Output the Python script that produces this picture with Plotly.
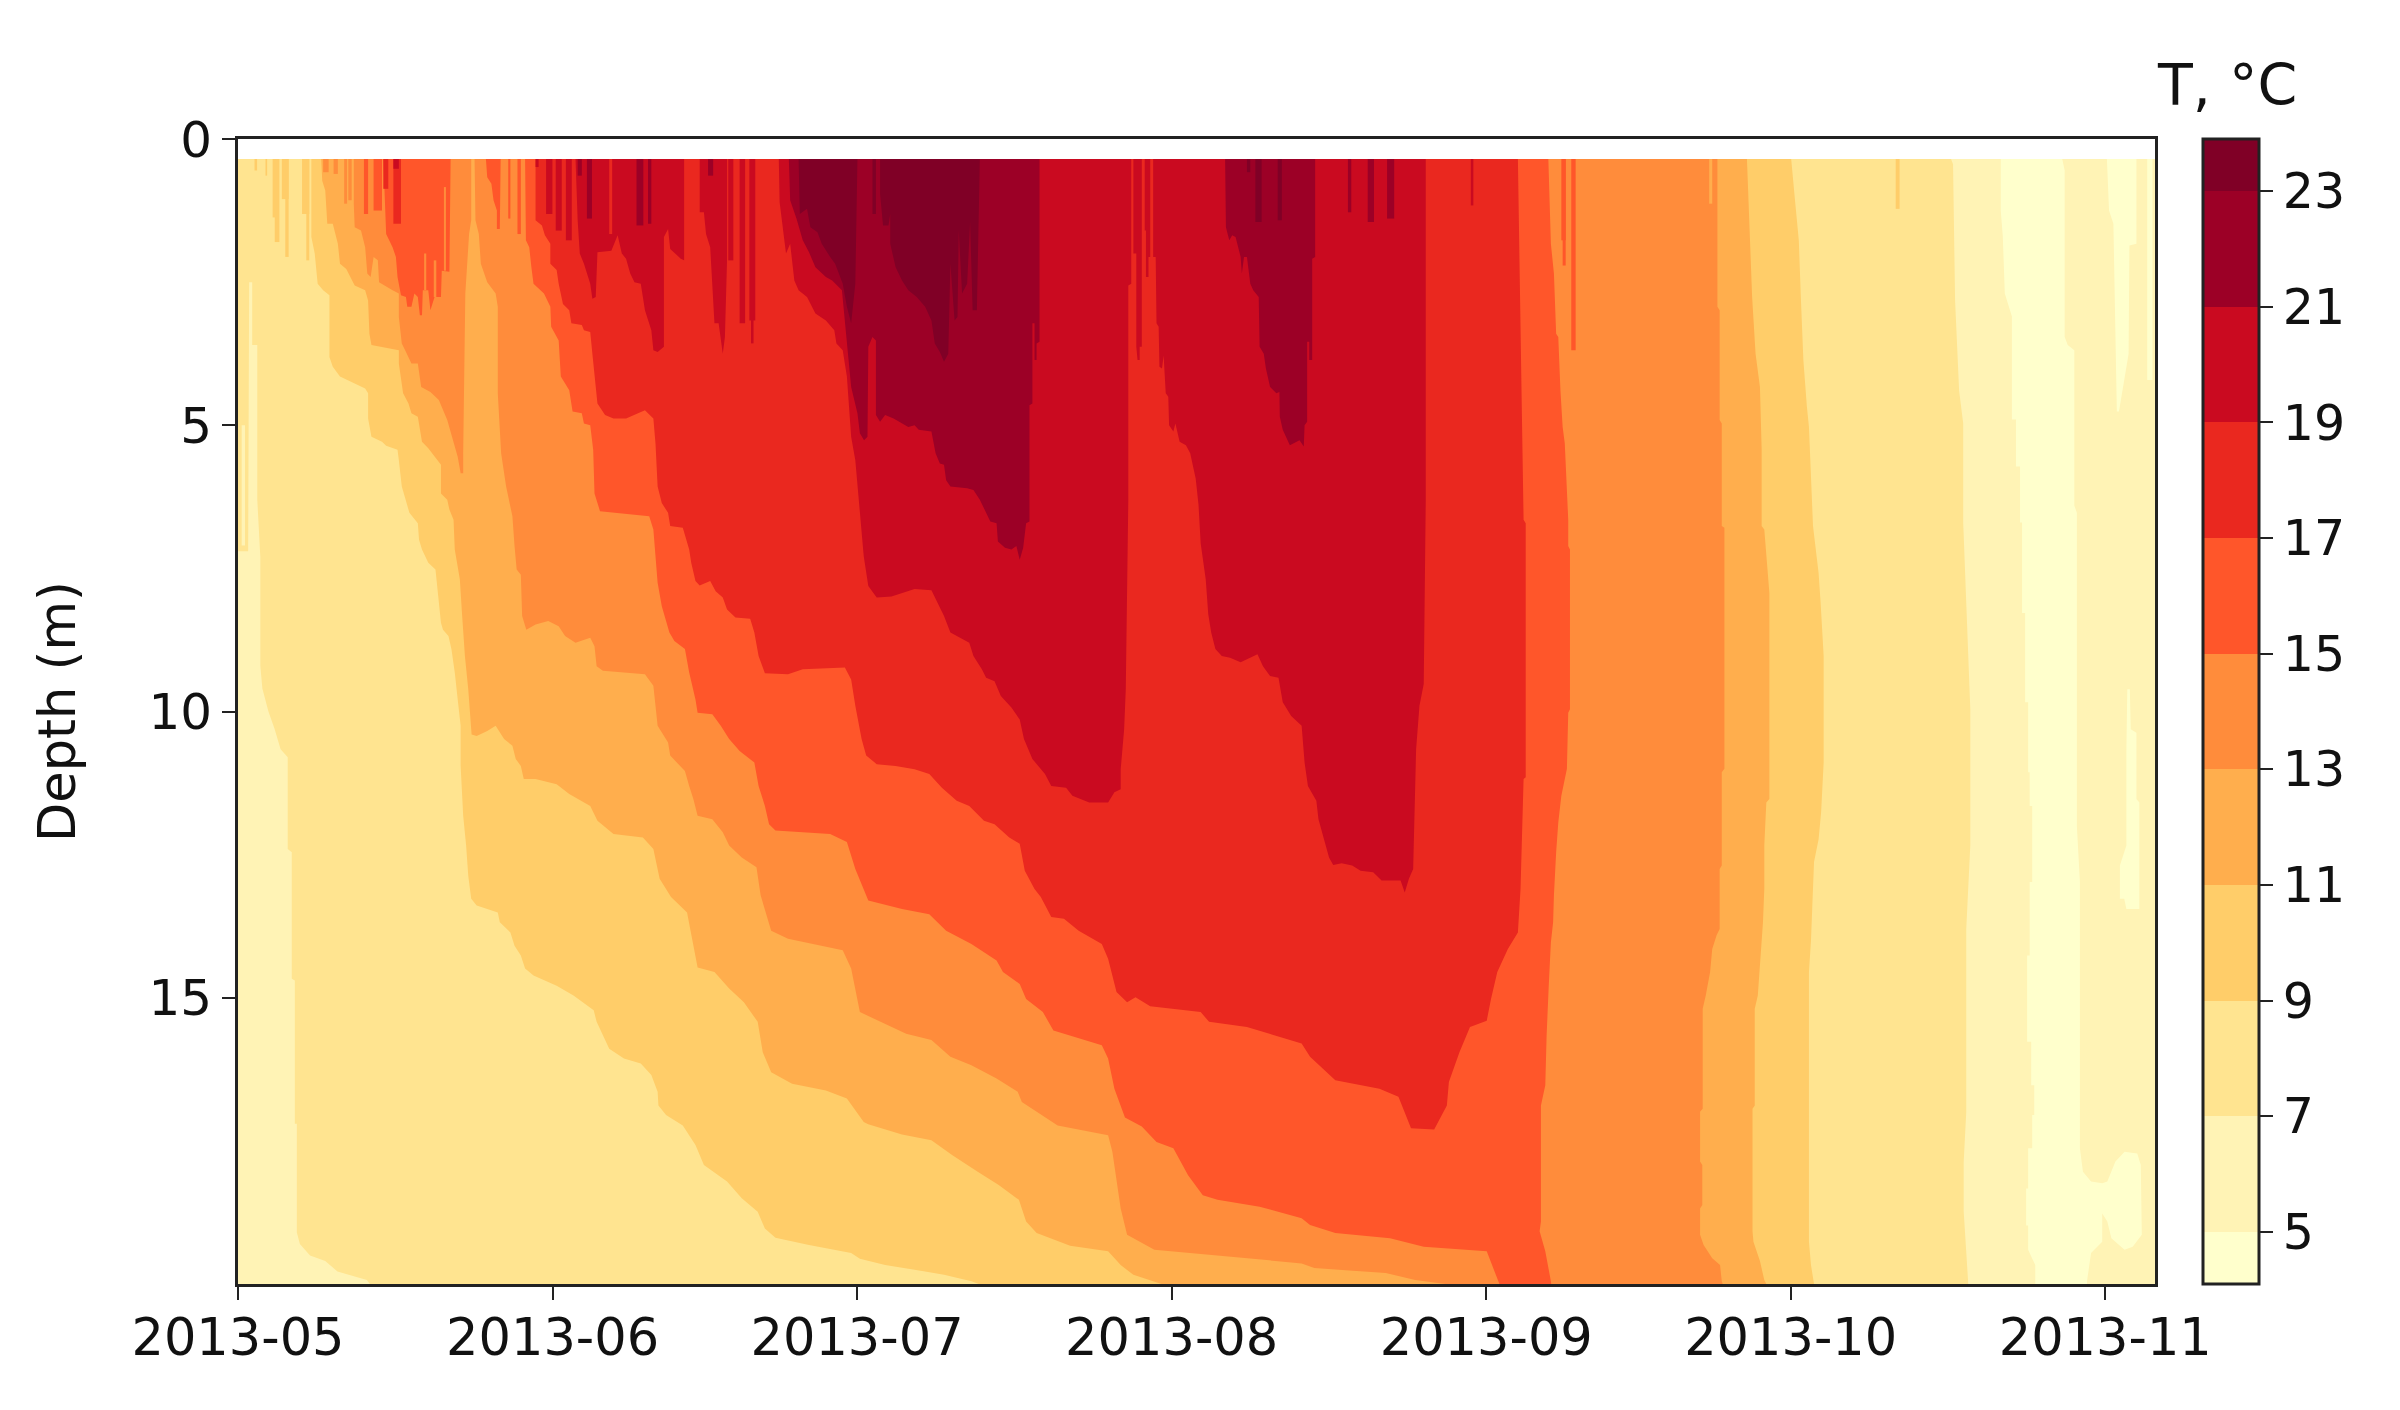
import pandas as pd
import plotly.graph_objects as go

# Lake temperature section.
# Every isotherm outline is a list of (days since 2013-05-01, depth in m);
# the region on the warm side of the isotherm is the closed outline.
START = pd.Timestamp("2013-05-01")
LAST_DAY = 188.9
SURFACE = 0.35
BOTTOM = 20.0

BAND_EDGES = [4.1, 5, 7, 9, 11, 13, 15, 17, 19, 21, 23, 23.9]
BAND_COLORS = ["#FFFFCC", "#FFF3B5", "#FFE490", "#FFCD69", "#FFAE4D", "#FF8C3B",
               "#FF562A", "#EA281F", "#CA0A20", "#9C0026", "#800026"]
COLORBAR_TICKS = [5, 7, 9, 11, 13, 15, 17, 19, 21, 23]
DEPTH_TICKS = [0, 5, 10, 15]
MONTH_TICKS = ["2013-05-01", "2013-06-01", "2013-07-01", "2013-08-01",
               "2013-09-01", "2013-10-01", "2013-11-01"]

# below 5 degrees, autumn patches
cold_main = [(173.7, .35), (173.7, 1.25), (173.9, 1.7), (174.1, 2.7), (174.8, 3.1), (174.8, 4.9), (175.2, 4.9),
             (175.2, 5.72), (175.6, 5.72), (175.6, 6.7), (175.8, 6.7), (175.8, 8.28), (176.1, 8.28), (176.1, 9.84),
             (176.4, 9.84), (176.4, 11.06), (176.55, 11.06), (176.55, 11.65), (176.8, 11.65), (176.8, 12.98),
             (176.55, 12.98), (176.55, 14.26), (176.3, 14.26), (176.3, 15.77), (176.7, 15.77), (176.7, 16.53),
             (177.0, 16.53), (177.0, 17.05), (176.8, 17.05), (176.8, 17.63), (176.4, 17.63), (176.4, 18.33),
             (176.2, 18.33), (176.2, 18.98), (176.4, 18.98), (176.4, 19.4), (177.1, 19.67), (177.1, 20),
             (182.2, 20), (182.2, 19.95), (182.6, 19.46), (183.7, 19.26), (183.7, 18.77), (184.2, 18.91),
             (184.6, 19.2), (185.9, 19.4), (186.7, 19.35), (187.6, 19.14), (187.5, 17.92), (187.15, 17.72),
             (185.9, 17.69), (185.0, 17.86), (184.2, 18.21), (183.7, 18.24), (182.6, 18.21), (181.8, 18.04),
             (181.5, 17.63), (181.5, 12.97), (181.2, 12.0), (181.2, 6.53), (180.95, 6.4), (180.95, 3.69),
             (180.3, 3.6), (180.0, 3.46), (180.0, .55), (179.76, .35)]
cold_top = [(184.16, .35), (184.37, 1.25), (184.8, 1.48), (185.0, 3.28), (185.14, 4.76), (185.35, 4.76),
            (186.3, 3.75), (186.38, 1.86), (187.07, 1.83), (187.07, .35)]
cold_mid = [(186.17, 9.61), (186.08, 10.66), (186.08, 12.34), (185.44, 12.69), (185.44, 13.27), (185.87, 13.27),
            (186.08, 13.45), (187.36, 13.45), (187.36, 11.59), (187.07, 11.53), (187.07, 10.37), (186.51, 10.31),
            (186.42, 9.61)]
cold_edge = [(188.13, .35), (188.13, 4.21), (188.65, 4.21), (188.65, .35)]

iso_07 = [(0, .35), (0, 7.2), (1.0, 7.2), (1.1, 2.5), (1.4, 2.5), (1.4, 3.6), (1.9, 3.6), (1.9, 6.3), (2.2, 7.3),
          (2.2, 9.2), (2.4, 9.6), (3.0, 10.0), (3.6, 10.3), (4.2, 10.66), (4.9, 10.8), (4.9, 12.4), (5.3, 12.46),
          (5.3, 14.67), (5.6, 14.7), (5.6, 17.2), (5.8, 17.2), (5.8, 19.1), (6.1, 19.3), (7.1, 19.5), (8.6, 19.6),
          (9.8, 19.78), (12.7, 19.93), (13, 20),
          (170.5, 20), (170.05, 18.74), (170.05, 17.86), (170.3, 17), (170.3, 13.8), (170.7, 12.34), (170.7, 9.96),
          (170.3, 8.0), (170.0, 6.7), (170, 4.97), (169.6, 4.4), (169.2, 2.82), (169.0, .44), (168.8, .35)]

iso_09 = [(7.23, .35), (7.23, 1.71), (7.56, 2.0), (7.85, 2.53), (8.39, 2.64), (9.01, 2.73), (9.01, 3.81), (9.34, 3.98),
          (10.05, 4.15), (11.5, 4.27), (12.53, 4.36), (12.82, 4.44), (12.82, 4.88), (13.15, 5.2), (14.19, 5.29),
          (14.6, 5.36), (15.72, 5.43), (15.85, 5.61), (16.14, 6.07), (16.47, 6.27), (16.89, 6.53), (17.72, 6.71),
          (17.84, 7.0), (18.13, 7.17), (18.75, 7.4), (19.46, 7.52), (19.58, 7.75), (20.0, 8.45), (20.2, 8.57),
          (20.74, 8.68), (21.03, 8.91), (21.36, 9.32), (21.65, 9.79), (21.94, 10.25), (21.94, 10.95), (22.19, 11.82),
          (22.48, 12.34), (22.69, 12.87), (22.98, 13.27), (23.52, 13.39), (25.6, 13.51), (25.8, 13.68), (26.84, 13.86),
          (27.25, 14.09), (27.87, 14.26), (28.29, 14.49), (29.12, 14.61), (31.4, 14.79), (33.06, 14.96), (35.05, 15.22),
          (35.34, 15.42), (35.96, 15.66), (36.58, 15.89), (38.03, 16.06), (39.69, 16.15), (40.73, 16.35), (41.35, 16.64),
          (41.43, 16.88), (42.18, 17.05), (43.83, 17.23), (45.08, 17.57), (45.91, 17.92), (48.19, 18.21), (49.64, 18.5),
          (51.21, 18.74), (51.92, 19.03), (52.96, 19.19), (56.27, 19.32), (60.42, 19.46), (61.28, 19.56), (63.77, 19.67),
          (66.67, 19.75), (69.57, 19.84), (72.27, 19.95), (73, 20),
          (155.3, 20), (155, 19.67), (154.8, 19.26), (154.8, 14.55), (155, 14), (155.3, 12.63), (155.75, 12.23),
          (156, 11.76), (156.25, 10.89), (156.25, 9.03), (155.95, 8.1), (155.75, 7.58), (155.2, 6.76), (154.8, 5.03),
          (154.6, 4.68), (154.25, 3.86), (154, 2.76), (153.8, 1.77), (153.4, 1.02), (153.05, .35)]

iso_11 = [(8.2, .35), (8.3, .73), (8.6, .9), (8.8, 1.48), (9.34, 1.48), (9.5, 1.6), (9.84, 1.83), (10.05, 2.18),
          (10.67, 2.27), (11.5, 2.56), (12.53, 2.64), (12.82, 2.82), (12.95, 3.4), (13.15, 3.6), (14.19, 3.63),
          (15.23, 3.66), (15.85, 3.69), (15.85, 3.92), (16.27, 4.44), (16.8, 4.62), (17.09, 4.79), (17.72, 4.85),
          (18.13, 5.29), (18.75, 5.4), (19.37, 5.55), (20.0, 5.69), (20.0, 6.19), (20.62, 6.3), (20.83, 6.47),
          (21.24, 6.65), (21.36, 7.17), (21.86, 7.69), (22.07, 8.28), (22.36, 9.03), (22.69, 9.61), (22.9, 10.08),
          (23.02, 10.4), (23.52, 10.43), (24.56, 10.34), (25.39, 10.25), (26.22, 10.48), (27.04, 10.6), (27.37, 10.83),
          (27.87, 10.95), (28.16, 11.18), (29.32, 11.18), (31.4, 11.27), (32.64, 11.44), (34.71, 11.65), (35.42, 11.91),
          (37.0, 12.14), (39.9, 12.2), (40.93, 12.4), (41.55, 12.92), (42.67, 13.24), (44.25, 13.51), (44.87, 14.09),
          (45.29, 14.47), (46.95, 14.55), (48.4, 14.84), (49.85, 15.08), (51.21, 15.42), (51.71, 15.95), (52.54, 16.3),
          (54.6, 16.5), (57.93, 16.62), (60.0, 16.76), (61.66, 17.17), (62.1, 17.21), (65.43, 17.39), (68.33, 17.49),
          (70.4, 17.75), (72.89, 18.04), (74.96, 18.27), (76.95, 18.53), (77.66, 18.91), (78.7, 19.11), (82.0, 19.33),
          (85.74, 19.43), (86.98, 19.67), (88.23, 19.84), (89.89, 19.93), (91, 20),
          (150.6, 20), (150.4, 19.93), (149.97, 19.6), (149.33, 19.26), (149.24, 19.08), (149.24, 16.94), (149.46, 16.88),
          (149.46, 15.19), (149.76, 14.96), (149.97, 14.49), (150.27, 13.68), (150.4, 13.1), (150.4, 12.34), (150.6, 11.59),
          (150.9, 11.53), (150.9, 7.93), (150.6, 7.29), (150.4, 6.82), (150.14, 6.76), (150.14, 5.43), (149.97, 4.33),
          (149.76, 4.04), (149.54, 3.75), (149.2, 2.76), (148.9, 1.48), (148.69, .35)]

iso_13 = [(11.41, .35), (11.41, 1.13), (11.5, 1.54), (12.12, 1.6), (12.53, 1.89), (12.74, 2.35), (13.07, 2.41),
          (13.36, 2.06), (13.78, 2.12), (13.9, 2.5), (15.23, 2.64), (15.85, 2.7), (15.85, 3.11), (16.14, 3.57),
          (16.47, 3.69), (17.09, 3.92), (17.72, 3.92), (18.05, 4.33), (18.96, 4.42), (19.79, 4.56), (20.62, 4.91),
          (21.24, 5.29), (21.65, 5.55), (21.94, 5.84), (22.19, 5.84), (22.19, 5.49), (22.4, 2.7), (22.77, 1.66),
          (22.98, 1.42), (22.98, .35), (23.31, .35), (23.4, 1.42), (23.73, 1.66), (23.93, 2.18), (24.56, 2.5),
          (25.39, 2.7), (25.6, 2.93), (25.6, 4.44), (25.93, 5.49), (26.42, 6.07), (27.04, 6.59), (27.25, 7.11),
          (27.46, 7.52), (27.87, 7.61), (28, 8.33), (28.41, 8.57), (29.32, 8.48), (30.57, 8.42), (31.6, 8.51),
          (32.23, 8.68), (33.26, 8.8), (34.71, 8.71), (35.13, 8.86), (35.34, 9.21), (35.96, 9.29), (40.1, 9.35),
          (40.93, 9.55), (41.35, 10.25), (42.38, 10.54), (42.59, 10.77), (44.04, 11.04), (44.46, 11.3), (44.87, 11.53),
          (45.29, 11.82), (46.74, 11.88), (47.77, 12.11), (48.4, 12.34), (49.64, 12.55), (51.09, 12.72), (51.5, 13.21),
          (51.92, 13.45), (52.54, 13.83), (54.2, 13.97), (59.59, 14.17), (60.42, 14.49), (61.28, 15.25), (65.84, 15.63),
          (68.33, 15.74), (70.2, 16.03), (72.27, 16.18), (74.75, 16.41), (76.83, 16.64), (77.24, 16.82), (79.94, 17.14),
          (80.77, 17.23), (85.74, 17.4), (86.16, 17.69), (86.98, 18.68), (87.61, 19.14), (90.3, 19.4), (95.69, 19.49),
          (104.81, 19.64), (106.06, 19.72), (113.1, 19.81), (116.0, 19.93), (119, 20),
          (146.3, 20), (146.21, 19.95), (146.04, 19.67), (145.27, 19.55), (144.42, 19.32), (144.07, 19.14), (144.07, 18.68),
          (144.29, 18.62), (144.29, 17.92), (144.07, 17.86), (144.07, 16.99), (144.33, 16.94), (144.33, 15.19),
          (144.63, 14.96), (145.06, 14.55), (145.27, 14.15), (145.7, 13.91), (146, 13.8), (146, 12.75), (146.21, 12.69),
          (146.21, 11.06), (146.47, 11.0), (146.47, 6.79), (146.21, 6.76), (146.21, 4.97), (146, 4.91), (146, 2.99),
          (145.78, 2.93), (145.78, .35)]

iso_15 = [(14.32, .35), (14.6, 1.66), (15.23, 1.89), (15.56, 2.06), (15.72, 2.41), (16.06, 2.73), (16.55, 2.76),
          (16.68, 2.93), (17.09, 2.93), (17.38, 2.7), (17.72, 2.76), (17.92, 3.08), (18.13, 3.08), (18.21, 2.64),
          (18.75, 2.64), (18.96, 2.99), (19.37, 2.76), (20.0, 2.76), (20.08, 2.3), (20.83, 2.32), (20.95, .35),
          (24.43, .35), (24.56, .67), (24.97, .78), (25.18, 1.07), (25.51, 1.25), (25.51, 1.57), (25.8, 1.57),
          (25.88, .35), (28.29, .35), (28.37, 1.77), (28.7, 1.89), (28.91, 2.24), (29.12, 2.53), (30.15, 2.7),
          (30.78, 2.93), (30.86, 3.28), (31.6, 3.52), (31.81, 4.15), (32.64, 4.39), (32.97, 4.76), (33.88, 4.79),
          (34.09, 4.97), (34.71, 5.0), (35.0, 5.43), (35.13, 6.19), (35.67, 6.5), (40.52, 6.59), (40.93, 6.82),
          (41.35, 7.75), (41.76, 8.16), (42.51, 8.62), (43.0, 8.77), (44.04, 8.91), (44.46, 9.32), (45.08, 9.79),
          (45.29, 10.02), (46.74, 10.05), (47.57, 10.25), (48.4, 10.48), (49.43, 10.69), (50.88, 10.89), (51.3, 11.3),
          (51.92, 11.65), (52.33, 11.97), (52.96, 12.08), (58.35, 12.14), (60.0, 12.28), (60.83, 12.75), (61.66, 13.1),
          (62.11, 13.3), (65.43, 13.45), (68.12, 13.54), (69.78, 13.83), (72.27, 14.06), (74.75, 14.35), (75.38, 14.55),
          (77.03, 14.76), (77.66, 15.02), (79.31, 15.25), (80.35, 15.57), (85.12, 15.83), (85.74, 16.06), (86.36, 16.59),
          (87.4, 17.09), (89.06, 17.25), (90.51, 17.52), (92.17, 17.63), (93.62, 18.1), (95.07, 18.45), (96.52, 18.53),
          (100.67, 18.65), (104.81, 18.85), (105.64, 18.97), (108.13, 19.11), (113.52, 19.2), (116.84, 19.35),
          (123.05, 19.43), (124.22, 19.95), (124.3, 20),
          (129.4, 20), (129.37, 19.95), (128.82, 19.43), (128.26, 19.08), (128.39, 18.91), (128.39, 16.88), (128.82, 16.53),
          (128.95, 15.66), (129.16, 14.79), (129.37, 14.03), (129.59, 13.68), (129.67, 13.21), (129.89, 12.46),
          (130.1, 11.94), (130.4, 11.47), (130.65, 11.24), (130.95, 11.0), (131.08, 10.02), (131.25, 9.96), (131.25, 7.17),
          (131.08, 7.11), (131.08, 6.65), (130.74, 5.32), (130.53, 5.03), (130.31, 4.39), (130.1, 3.46), (129.89, 3.4),
          (129.67, 2.35), (129.37, 1.83), (129.12, .35)]

iso_17 = [(29.32, .35), (29.32, 1.42), (29.95, 1.51), (30.24, 1.68), (30.78, 1.83), (30.78, 2.18), (31.4, 2.29),
          (31.6, 2.53), (32.02, 2.88), (32.64, 2.99), (32.85, 3.22), (33.88, 3.25), (34.09, 3.34), (34.71, 3.37),
          (34.92, 3.75), (35.13, 4.1), (35.42, 4.62), (36.17, 4.82), (37.0, 4.88), (38.24, 4.88), (39.07, 4.82),
          (40.1, 4.74), (40.93, 4.88), (41.14, 5.32), (41.35, 6.07), (41.76, 6.36), (42.38, 6.53), (42.59, 6.76),
          (43.83, 6.79), (44.46, 7.17), (44.66, 7.4), (45.08, 7.72), (45.49, 7.8), (46.53, 7.72), (47.07, 7.9),
          (47.77, 8.01), (48.19, 8.22), (49.02, 8.36), (50.47, 8.38), (50.88, 8.62), (51.3, 9.03), (51.92, 9.33),
          (54.2, 9.35), (55.65, 9.26), (59.8, 9.23), (60.42, 9.44), (60.83, 9.9), (61.45, 10.48), (61.9, 10.77),
          (62.94, 10.92), (64.8, 10.95), (66.67, 11.01), (68.12, 11.09), (69.36, 11.33), (70.82, 11.56), (72.06, 11.65),
          (73.51, 11.91), (74.55, 11.97), (76.0, 12.2), (77.03, 12.31), (77.53, 12.78), (78.49, 13.1), (79.11, 13.24),
          (80.14, 13.59), (81.39, 13.62), (82.84, 13.83), (85.12, 14.06), (85.74, 14.32), (86.57, 14.9), (87.61, 15.08),
          (88.44, 14.99), (89.89, 15.15), (94.86, 15.25), (95.69, 15.42), (99.42, 15.51), (104.81, 15.8), (105.64, 16.03),
          (108.13, 16.44), (112.48, 16.59), (114.35, 16.73), (115.59, 17.28), (117.87, 17.3), (119.12, 16.88),
          (119.32, 16.47), (120.36, 15.95), (121.4, 15.51), (123.05, 15.4), (123.47, 15.02), (124.09, 14.55),
          (125.13, 14.15), (126.12, 13.86), (126.38, 13.1), (126.68, 11.18), (126.89, 11.15), (126.89, 6.71),
          (126.68, 6.65), (126.47, 4.33), (126.25, 1.89), (126.12, .35)]

iso_19_early_a = [(33.26, .35), (33.47, 1.42), (33.68, 2.0), (34.09, 2.18), (34.71, 2.53), (34.92, 2.79), (35.25, 2.76),
                  (35.42, 1.98), (36.79, 1.95), (37.41, 1.68), (37.82, 2.0), (38.24, 2.09), (38.65, 2.35), (39.07, 2.5),
                  (39.69, 2.53), (40.1, 2.99), (40.73, 3.34), (40.93, 3.69), (41.35, 3.72), (41.97, 3.63), (41.97, 1.71),
                  (42.38, 1.57), (42.59, 1.92), (43.63, 2.09), (43.96, 2.12), (43.96, .35)]
iso_19_early_b = [(45.5, .35), (45.5, 1.28), (45.91, 1.28), (46.12, 1.66), (46.53, 1.89), (46.74, 2.59), (46.95, 3.22),
                  (47.36, 3.22), (47.77, 3.75), (47.98, 3.46), (48.19, 2.12), (48.19, .35)]
iso_19 = [(53.29, .35), (53.37, 1.1), (54.0, 2.0), (54.41, 1.83), (54.82, 2.47), (55.24, 2.64), (56.07, 2.76), (56.9, 3.05),
          (57.93, 3.17), (58.76, 3.34), (58.97, 3.57), (59.59, 3.69), (60.0, 4.15), (60.42, 5.2), (60.83, 5.61), (61.25, 6.54),
          (61.66, 7.29), (62.11, 7.81), (62.94, 8.01), (64.39, 7.99), (66.67, 7.86), (68.33, 7.88), (68.95, 8.1), (69.57, 8.33),
          (70.2, 8.62), (72.06, 8.8), (72.47, 9.03), (73.3, 9.26), (73.72, 9.41), (74.55, 9.47), (75.17, 9.73), (76.21, 9.93),
          (77.03, 10.14), (77.45, 10.48), (78.28, 10.83), (79.52, 11.09), (80.14, 11.3), (81.6, 11.33), (82.22, 11.47),
          (83.88, 11.59), (85.74, 11.59), (86.36, 11.41), (86.98, 11.36), (86.98, 11.01), (87.32, 10.31), (87.48, 9.61),
          (87.73, 6.3), (87.73, 2.56), (88.02, 2.53), (88.02, .35), (88.23, .35), (88.23, 2.0), (88.52, 2.0), (88.52, 3.63),
          (88.64, 3.86), (88.85, 3.86), (88.85, 3.63), (89.06, 3.63), (89.06, .35), (89.35, .35), (89.35, 1.6), (89.47, 1.6),
          (89.47, 2.41), (89.72, 2.41), (89.72, 2.06), (89.89, 2.06), (89.89, .35), (90.18, .35), (90.18, 2.06), (90.43, 2.06),
          (90.51, 3.22), (90.72, 3.28), (90.8, 3.98), (91.05, 4.01), (91.21, 3.78), (91.42, 4.44), (91.67, 4.5), (91.75, 5.0),
          (92.17, 5.11), (92.37, 4.97), (92.79, 5.29), (93.41, 5.35), (93.83, 5.49), (94.03, 5.67), (94.37, 5.93), (94.65, 6.39),
          (94.86, 7.06), (95.36, 7.69), (95.61, 8.3), (95.9, 8.62), (96.31, 8.91), (96.94, 9.03), (97.76, 9.06), (98.8, 9.14),
          (100.46, 9.0), (101.0, 9.21), (101.7, 9.38), (102.53, 9.41), (102.95, 9.84), (103.78, 10.08), (104.81, 10.25),
          (105.1, 10.89), (105.43, 11.3), (106.26, 11.56), (106.47, 11.88), (107.09, 12.28), (107.51, 12.55), (107.92, 12.68),
          (108.75, 12.65), (109.79, 12.69), (110.62, 12.78), (111.86, 12.81), (112.69, 12.95), (114.56, 12.95), (114.97, 13.16),
          (115.38, 12.92), (115.8, 12.75), (115.92, 11.88), (116.09, 10.66), (116.42, 9.9), (116.84, 9.52), (117.04, 6.3),
          (117.04, .35)]

iso_21 = [(54.28, .35), (54.41, 1.07), (55.03, 1.39), (55.65, 1.77), (56.27, 1.98), (56.9, 2.24), (57.93, 2.41), (58.55, 2.47),
          (59.51, 2.64), (59.67, 2.93), (60.0, 3.63), (60.42, 4.33), (61.04, 4.79), (61.28, 5.14), (61.69, 5.26), (62.03, 5.2),
          (62.11, 3.63), (62.52, 3.46), (62.86, 3.52), (62.86, 4.82), (63.27, 4.94), (63.77, 4.82), (64.6, 4.88), (65.22, 4.94),
          (66.05, 5.03), (66.67, 5.0), (67.08, 5.08), (68.33, 5.11), (68.74, 5.49), (69.16, 5.67), (69.57, 5.69), (69.78, 5.96),
          (70.2, 6.07), (71.85, 6.1), (72.47, 6.13), (73.1, 6.3), (73.63, 6.5), (74.13, 6.68), (74.75, 6.71), (74.88, 7.03),
          (75.58, 7.14), (76.21, 7.17), (76.7, 7.11), (77.03, 7.35), (77.37, 7.14), (77.66, 6.71), (77.99, 6.68), (77.99, 4.65),
          (78.28, 4.62), (78.28, 3.22), (78.49, 3.22), (78.49, 3.86), (78.69, 3.86), (78.69, 3.57), (78.98, 3.54), (78.98, .35)]
iso_21_late = [(97.27, .35), (97.35, 1.54), (97.68, 1.77), (97.97, 1.68), (98.3, 1.71), (98.59, 1.92), (98.8, 2.06), (98.92, 2.35),
               (99.13, 2.06), (99.42, 2.06), (99.75, 2.53), (100.04, 2.64), (100.58, 2.76), (100.67, 3.63), (101.08, 3.75),
               (101.29, 4.01), (101.7, 4.33), (102.32, 4.44), (102.62, 4.42), (102.66, 4.85), (102.95, 5.08), (103.65, 5.35),
               (104.6, 5.26), (105.02, 5.37), (105.1, 5.0), (105.35, 4.94), (105.35, 3.54), (105.56, 3.54), (105.56, 3.86),
               (105.85, 3.86), (105.85, 2.09), (106.14, 2.06), (106.14, .35)]

iso_23 = [(55.24, .35), (55.36, 1.31), (56.07, 1.22), (56.4, 1.54), (57.1, 1.63), (57.52, 1.83), (58.35, 2.06), (58.84, 2.18),
          (59.59, 2.53), (60.0, 2.93), (60.42, 3.22), (60.83, 2.53), (61.04, .35)]
iso_23_late = [(63.27, .35), (63.27, .96), (63.56, 1.51), (64.1, 1.51), (64.27, 1.31), (64.27, 1.83), (64.8, 2.24), (65.43, 2.47),
               (66.05, 2.64), (66.88, 2.76), (67.71, 2.93), (68.33, 3.17), (68.66, 3.57), (69.16, 3.72), (69.57, 3.89), (69.99, 3.75),
               (70.2, 2.18), (70.48, 2.76), (70.61, 3.17), (70.9, 3.11), (71.02, 1.6), (71.35, 2.7), (71.85, 2.53), (72.14, 1.45),
               (72.39, 2.99), (72.81, 2.99), (72.89, 2.18), (73.1, .35)]

# thin warm stripes hanging from the surface
spike_temp = [9, 9, 9, 9, 9, 9, 9, 9, 9,
              13, 13, 13, 13,
              15, 15, 15, 15, 15, 15, 15,
              17, 17,
              19, 19, 19, 19, 19, 19, 19, 19, 19, 19,
              21, 21, 21, 21, 21, 21, 21, 21,
              23, 23, 23, 23]
spike_start = [1.63, 2.71, 3.41, 3.62, 4.32, 4.66, 6.31, 6.73, 163.35,
               8.39, 9.42, 10.46, 10.87,
               12.41, 13.36, 26.63, 27.54, 130.4, 130.53, 131.38,
               14.32, 15.31,
               29.32, 30.36, 31.31, 32.31, 48.31, 49.43, 50.39, 50.55, 15.31, 121.48,
               33.47, 34.38, 39.27, 40.4, 46.32, 109.37, 111.32, 113.23,
               62.52, 99.42, 100.25, 102.45]
spike_end = [1.88, 2.87, 3.74, 4.08, 4.99, 4.99, 7.02, 7.02, 163.73,
             8.93, 9.84, 10.75, 11.2,
             12.82, 14.19, 26.84, 27.87, 130.83, 130.83, 131.81,
             14.81, 16.06,
             29.62, 30.98, 31.9, 32.89, 48.81, 49.97, 50.97, 50.8, 15.85, 121.73,
             33.88, 34.88, 39.94, 40.73, 46.82, 109.7, 111.94, 113.93,
             62.86, 99.75, 100.87, 102.86]
spike_depth = [.55, .64, 1.37, 1.8, 1.05, 2.06, 1.31, 2.12, 1.22,
               .58, .61, 1.13, 1.07,
               1.31, 1.25, 1.39, 1.66, 1.77, 2.21, 3.69,
               .87, 1.48,
               .49, 1.31, 1.6, 1.77, 2.12, 3.22, 3.17, 3.57, .52, 1.16,
               .64, 1.39, 1.51, 1.48, .64, 1.28, 1.45, 1.39,
               1.31, .58, 1.45, 1.42]

# cooler slivers inside a warmer region
notch_temp = [5, 11, 13, 13, 13, 17]
notch_start = [.36, 144.97, 18.34, 19.29, 20.29, 36.58]
notch_end = [.69, 145.27, 18.55, 19.54, 20.49, 36.87]
notch_top = [5.0, .35, 2.0, 2.12, .84, .35]
notch_bottom = [7.1, 1.13, 2.64, 2.76, 2.3, 1.66]

REGIONS = {7: [iso_07], 9: [iso_09], 11: [iso_11], 13: [iso_13], 15: [iso_15], 17: [iso_17],
           19: [iso_19_early_a, iso_19_early_b, iso_19], 21: [iso_21, iso_21_late], 23: [iso_23, iso_23_late]}


def band_color(temp):
    return BAND_COLORS[BAND_EDGES.index(temp)]


def to_dates(days):
    return [START + pd.Timedelta(days=float(d)) for d in days]


def add_region(fig, outline, color):
    days, depths = zip(*outline)
    fig.add_trace(go.Scatter(x=to_dates(days), y=list(depths), mode="lines", fill="toself", fillcolor=color,
                             line=dict(width=0, color=color), hoverinfo="skip", showlegend=False))


def stripe(day0, day1, top, bottom):
    return [(day0, top), (day0, bottom), (day1, bottom), (day1, top)]


fig = go.Figure()

# whole section starts in the 5-7 band, the patches below 5 go on top of it
add_region(fig, [(0, SURFACE), (0, BOTTOM), (LAST_DAY, BOTTOM), (LAST_DAY, SURFACE)], band_color(5))
for patch in [cold_main, cold_top, cold_mid, cold_edge]:
    add_region(fig, patch, BAND_COLORS[0])

for temp, outlines in REGIONS.items():
    for outline in outlines:
        add_region(fig, outline, band_color(temp))
    for t, a, b, d in zip(spike_temp, spike_start, spike_end, spike_depth):
        if t == temp:
            add_region(fig, stripe(a, b, SURFACE, d), band_color(t))
    for t, a, b, top, bot in zip(notch_temp, notch_start, notch_end, notch_top, notch_bottom):
        if t + 2 == temp:
            add_region(fig, stripe(a, b, top, bot), band_color(t))

# stepped colorbar, hard edges at every band limit
span = BAND_EDGES[-1] - BAND_EDGES[0]
colorscale = []
for low, high, color in zip(BAND_EDGES[:-1], BAND_EDGES[1:], BAND_COLORS):
    colorscale += [[(low - BAND_EDGES[0]) / span, color], [(high - BAND_EDGES[0]) / span, color]]

fig.add_trace(go.Scatter(
    x=[START], y=[None], mode="markers", showlegend=False, hoverinfo="skip",
    marker=dict(color=[BAND_EDGES[0]], colorscale=colorscale, cmin=BAND_EDGES[0], cmax=BAND_EDGES[-1], showscale=True,
                colorbar=dict(x=1.025, xanchor="left", xpad=0, y=0.5, yanchor="middle", ypad=0, len=1, thickness=56,
                              outlinewidth=3, outlinecolor="#222", ticks="outside", ticklen=13, tickwidth=2,
                              tickcolor="#222", tickvals=COLORBAR_TICKS, ticktext=[str(t) for t in COLORBAR_TICKS],
                              tickfont=dict(size=49, color="#111")))))

fig.add_annotation(text="T, °C", xref="paper", yref="paper", x=1.0378, y=1.047, xanchor="center", yanchor="middle",
                   showarrow=False, font=dict(size=57, color="#111"))

# page body adds 8 px on the left and top, so the margins are 8 short
fig.update_layout(
    width=2400, height=1410, margin=dict(l=230, r=253, t=131, b=134),
    plot_bgcolor="white", paper_bgcolor="white", font=dict(family="DejaVu Sans", size=50, color="#111"),
    xaxis=dict(type="date", range=[START, START + pd.Timedelta(days=LAST_DAY)], tickvals=MONTH_TICKS, tickformat="%Y-%m",
               tickfont=dict(size=51), ticklabelstandoff=-6,
               showgrid=False, zeroline=False, ticks="outside", ticklen=13, tickwidth=2, tickcolor="#222",
               showline=True, mirror=True, linecolor="#222", linewidth=3),
    yaxis=dict(range=[BOTTOM, 0], tickvals=DEPTH_TICKS, showgrid=False, zeroline=False, ticks="outside", ticklen=13,
               tickwidth=2, tickcolor="#222", showline=True, mirror=True, linecolor="#222", linewidth=3,
               title=dict(text="Depth (m)", standoff=57, font=dict(size=51))),
)

fig.write_html("out.html")
